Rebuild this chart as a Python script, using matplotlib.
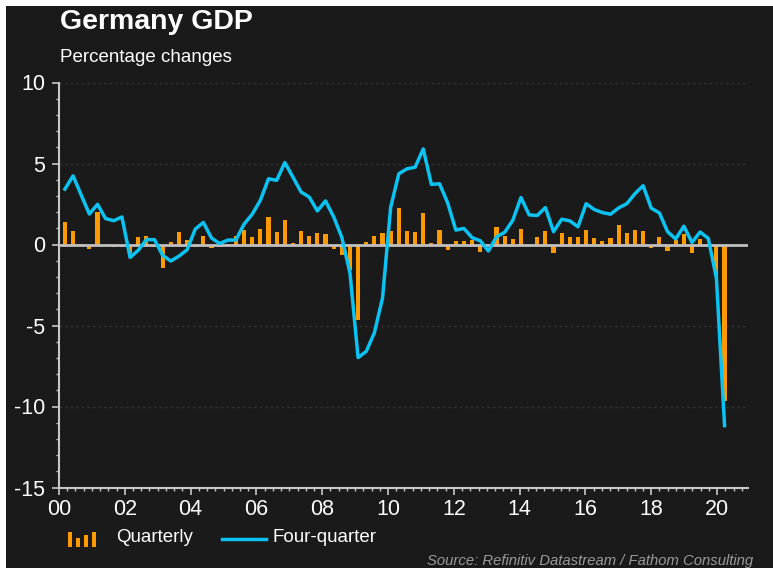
import matplotlib
matplotlib.use("Agg")
import matplotlib.pyplot as plt
from matplotlib.patches import Rectangle
from matplotlib.lines import Line2D
import numpy as np

plt.rcParams['font.family'] = ['Liberation Sans', 'DejaVu Sans']

# ---------------- data (2000Q1 .. 2020Q2) ----------------
quarterly = [
    1.39, 0.85, 0.03, -0.30, 2.02, -0.06, -0.13, -0.13,      # 2000-2001
    -0.50, 0.47, 0.53, -0.14, -1.45, 0.17, 0.79, 0.29,       # 2002-2003
    -0.13, 0.53, -0.20, -0.13, 0.05, 0.53, 0.89, 0.46,       # 2004-2005
    0.95, 1.69, 0.77, 1.50, 0.10, 0.83, 0.52, 0.70,          # 2006-2007
    0.63, -0.26, -0.63, -1.60, -4.67, 0.14, 0.52, 0.71,      # 2008-2009
    0.83, 2.24, 0.83, 0.77, 1.93, 0.10, 0.89, -0.34,         # 2010-2011
    0.21, 0.21, 0.28, -0.44, -0.05, 1.07, 0.52, 0.34,        # 2012-2013
    0.95, -0.05, 0.46, 0.83, -0.50, 0.71, 0.46, 0.46,        # 2014-2015
    0.89, 0.40, 0.21, 0.40, 1.20, 0.71, 0.89, 0.83,          # 2016-2017
    -0.20, 0.46, -0.38, 0.25, 0.64, -0.50, 0.34, 0.02,       # 2018-2019
    -1.97, -9.64,                                            # 2020
]
four_quarter = [
    3.42, 4.24, 3.05, 1.88, 2.48, 1.60, 1.47, 1.70,
    -0.80, -0.36, 0.30, 0.30, -0.67, -1.02, -0.72, -0.33,
    0.95, 1.36, 0.40, 0.06, 0.27, 0.28, 1.26, 1.87,
    2.73, 4.06, 3.96, 5.06, 4.16, 3.24, 2.93, 2.07,
    2.69, 1.71, 0.44, -1.75, -6.98, -6.60, -5.45, -3.30,
    2.30, 4.37, 4.67, 4.77, 5.90, 3.71, 3.75, 2.57,
    0.89, 0.99, 0.42, 0.23, -0.40, 0.48, 0.75, 1.50,
    2.90, 1.83, 1.79, 2.28, 0.79, 1.56, 1.46, 1.09,
    2.52, 2.16, 1.97, 1.87, 2.26, 2.52, 3.14, 3.63,
    2.24, 1.95, 0.79, 0.34, 1.13, 0.13, 0.77, 0.38,
    -2.07, -11.18,
]
year_ticks = list(range(2000, 2021, 2))
year_labels = [f"{y % 100:02d}" for y in year_ticks]
y_ticks = [-15, -10, -5, 0, 5, 10]
y_labels = ["-15", "-10", "-5", "0", "5", "10"]

title = "Germany GDP"
subtitle = "Percentage changes"
source = "Source: Refinitiv Datastream / Fathom Consulting"

# ---------------- styling ----------------
BG = "#1a1a1a"
ORANGE = "#ff9900"
CYAN = "#0bc3f2"
AXC = "#c8c8c8"
W, H = 773, 568

fig = plt.figure(figsize=(W / 100, H / 100), dpi=100, facecolor=BG)

# white frame strips (top and left)
fig.add_artist(Rectangle((0, 1 - 6 / H), 1, 6 / H, transform=fig.transFigure,
                         facecolor="white", edgecolor="none", zorder=0))
fig.add_artist(Rectangle((0, 0), 6 / W, 1, transform=fig.transFigure,
                         facecolor="white", edgecolor="none", zorder=0))

ax = fig.add_axes([59 / W, 1 - 487.5 / H, (748 - 59) / W, (487.5 - 82.5) / H])
ax.set_facecolor(BG)

n = len(quarterly)
x = 2000.18 + 0.2475 * np.arange(n)   # quarter positions

for v in [-10, -5, 5, 10]:
    ax.axhline(v, color="#323232", lw=1.0, ls=(0, (2, 2)), zorder=0)

ax.bar(x, quarterly, width=0.125, color=ORANGE, zorder=2, linewidth=0)
ax.axhline(0, color="#c0c0c0", lw=2.0, zorder=3)
ax.plot(x, four_quarter, color=CYAN, lw=2.5, zorder=4, solid_joinstyle="round")

ax.set_ylim(-15, 10)
ax.set_xlim(2000, 2020.94)
ax.set_yticks(y_ticks)
ax.set_yticklabels(y_labels)
ax.set_yticks(np.arange(-15, 11, 1), minor=True)
ax.set_xticks(year_ticks)
ax.set_xticklabels(year_labels)
ax.set_xticks(np.arange(2000, 2021, 0.25), minor=True)

for s in ["top", "right"]:
    ax.spines[s].set_visible(False)
for s in ["left", "bottom"]:
    ax.spines[s].set_color(AXC)
    ax.spines[s].set_linewidth(1.5)

ax.tick_params(which="major", colors=AXC, labelcolor="white", labelsize=15.5,
               direction="out", length=5, width=1.2)
ax.tick_params(which="minor", colors=AXC, direction="out", length=2.5, width=1.0)
ax.tick_params(axis="y", which="major", pad=5)
ax.tick_params(axis="x", which="major", pad=3)

# titles
fig.text(60 / W, 1 - 22 / H, title, fontsize=20.5, fontweight="bold",
         color="white", va="center", ha="left")
fig.text(60 / W, 1 - 58 / H, subtitle, fontsize=13.5, color="white",
         va="center", ha="left")

# legend (manual)
for bx, bh in zip([68, 76, 84, 92], [15, 9, 12, 15]):
    fig.add_artist(Rectangle((bx / W, 1 - 547 / H), 4 / W, bh / H,
                             transform=fig.transFigure, facecolor=ORANGE,
                             edgecolor="none"))
fig.text(116 / W, 1 - 538 / H, "Quarterly", fontsize=13.5, color="white",
         va="center", ha="left")
fig.add_artist(Line2D([222 / W, 266 / W], [1 - 539 / H, 1 - 539 / H],
                      transform=fig.transFigure, color=CYAN, lw=2.5))
fig.text(273 / W, 1 - 538 / H, "Four-quarter", fontsize=13.5, color="white",
         va="center", ha="left")

fig.text(753 / W, 1 - 561 / H, source, fontsize=10.7, style="italic",
         color="#9a9a9a", va="center", ha="right")

fig.savefig("out.png", dpi=100, facecolor=BG)
